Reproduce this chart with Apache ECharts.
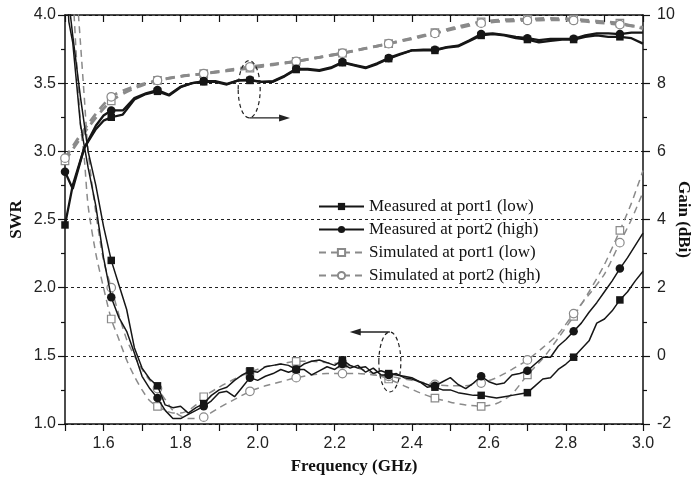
<!DOCTYPE html>
<html><head><meta charset="utf-8">
<script src="https://cdn.jsdelivr.net/npm/echarts@6/dist/echarts.min.js"></script>
<style>html,body{margin:0;padding:0;background:#fff}#c{width:697px;height:478px}</style>
</head><body><div id="c"></div>
<script>
// ---------- data ----------
const legendNames = ['Measured at port1 (low)','Measured at port2 (high)','Simulated at port1 (low)','Simulated at port2 (high)'];
const markerFreqs = [1.50,1.62,1.74,1.86,1.98,2.10,2.22,2.34,2.46,2.58,2.70,2.82,2.94];

// SWR (left axis)
const swrMeasFreq = [1.50,1.51,1.52,1.54,1.56,1.58,1.60,1.62,1.64,1.66,1.68,1.70,1.72,1.74,1.76,1.78,1.80,1.82,1.84,1.86,1.88,1.90,1.92,1.94,1.96,1.98,2.00,2.02,2.04,2.06,2.08,2.10,2.12,2.14,2.16,2.18,2.20,2.22,2.24,2.26,2.28,2.30,2.32,2.34,2.36,2.38,2.40,2.42,2.44,2.46,2.48,2.50,2.52,2.54,2.56,2.58,2.60,2.62,2.64,2.66,2.68,2.70,2.72,2.74,2.76,2.78,2.80,2.82,2.84,2.86,2.88,2.90,2.92,2.94,2.96,2.98,3.00];
const swrMeasPort1 = [4.6,4.1,3.85,3.4,3.0,2.75,2.45,2.20,2.02,1.84,1.56,1.41,1.33,1.28,1.14,1.12,1.13,1.08,1.12,1.15,1.21,1.25,1.27,1.32,1.36,1.39,1.38,1.42,1.43,1.44,1.43,1.40,1.44,1.46,1.47,1.45,1.43,1.47,1.43,1.41,1.42,1.37,1.39,1.37,1.36,1.35,1.34,1.31,1.29,1.27,1.25,1.25,1.23,1.22,1.21,1.21,1.20,1.19,1.20,1.21,1.22,1.23,1.28,1.33,1.34,1.40,1.44,1.49,1.55,1.61,1.74,1.77,1.83,1.91,1.97,2.05,2.12];
const swrMeasPort2 = [4.5,3.95,3.8,3.2,2.88,2.6,2.22,1.93,1.78,1.68,1.52,1.35,1.26,1.19,1.10,1.04,1.04,1.07,1.10,1.13,1.17,1.23,1.24,1.20,1.27,1.34,1.32,1.35,1.37,1.40,1.38,1.40,1.40,1.36,1.39,1.42,1.40,1.44,1.41,1.43,1.38,1.41,1.36,1.36,1.37,1.34,1.33,1.31,1.27,1.28,1.31,1.34,1.29,1.26,1.30,1.35,1.31,1.29,1.30,1.36,1.37,1.39,1.44,1.49,1.49,1.57,1.62,1.68,1.74,1.82,1.89,1.97,2.05,2.14,2.22,2.31,2.40];
const swrSimFreq = [1.50,1.52,1.54,1.55,1.56,1.58,1.60,1.62,1.64,1.66,1.68,1.70,1.72,1.74,1.76,1.78,1.80,1.82,1.84,1.86,1.90,1.94,1.98,2.02,2.06,2.10,2.14,2.18,2.22,2.26,2.30,2.34,2.38,2.42,2.46,2.50,2.54,2.58,2.62,2.66,2.70,2.74,2.78,2.82,2.86,2.90,2.94,2.97,3.00];
const swrSimPort1 = [5.5,4.2,3.2,2.95,2.6,2.25,2.0,1.77,1.62,1.47,1.35,1.25,1.17,1.13,1.10,1.08,1.08,1.10,1.14,1.20,1.27,1.33,1.38,1.42,1.44,1.46,1.46,1.45,1.44,1.41,1.37,1.33,1.28,1.23,1.19,1.16,1.14,1.13,1.15,1.22,1.36,1.48,1.63,1.79,1.97,2.17,2.42,2.62,2.86];
const swrSimPort2 = [5.5,4.6,3.8,3.4,3.0,2.55,2.2,2.00,1.80,1.62,1.50,1.40,1.32,1.26,1.18,1.10,1.06,1.04,1.04,1.05,1.12,1.18,1.24,1.28,1.31,1.34,1.36,1.37,1.37,1.37,1.36,1.35,1.33,1.31,1.29,1.28,1.28,1.30,1.34,1.40,1.47,1.56,1.66,1.81,1.95,2.10,2.33,2.50,2.70];

// Gain (right axis, dBi)
const gainMeasFreq = [1.50,1.52,1.55,1.58,1.60,1.62,1.65,1.68,1.71,1.74,1.77,1.80,1.83,1.86,1.89,1.92,1.95,1.98,2.01,2.04,2.07,2.10,2.13,2.16,2.19,2.22,2.25,2.28,2.31,2.34,2.37,2.40,2.43,2.46,2.49,2.52,2.55,2.58,2.61,2.64,2.67,2.70,2.73,2.76,2.79,2.82,2.85,2.88,2.91,2.94,2.97,3.00];
const gainMeasPort1 = [3.84,5.0,6.1,6.65,6.9,7.0,7.08,7.52,7.68,7.76,7.64,7.88,8.0,8.04,8.04,7.96,8.08,8.08,8.04,8.04,8.2,8.4,8.4,8.36,8.44,8.6,8.52,8.44,8.56,8.72,8.84,8.96,8.96,8.96,9.04,9.08,9.24,9.4,9.44,9.4,9.32,9.28,9.2,9.24,9.28,9.28,9.36,9.4,9.36,9.36,9.32,9.16];
const gainMeasPort2 = [5.4,4.9,6.1,6.75,7.05,7.2,7.2,7.56,7.7,7.8,7.66,7.9,8.0,8.06,8.06,7.98,8.08,8.1,8.04,8.06,8.22,8.42,8.42,8.38,8.46,8.62,8.54,8.46,8.58,8.74,8.86,8.96,8.98,8.98,9.06,9.1,9.26,9.44,9.46,9.42,9.36,9.32,9.26,9.3,9.3,9.3,9.4,9.46,9.46,9.44,9.48,9.48];
const gainSimFreq = [1.50,1.56,1.62,1.68,1.74,1.80,1.86,1.92,1.98,2.04,2.10,2.16,2.22,2.28,2.34,2.40,2.46,2.52,2.58,2.64,2.70,2.76,2.82,2.88,2.94,3.00];
const gainSimPort1 = [5.72,6.7,7.48,7.85,8.08,8.2,8.28,8.36,8.44,8.54,8.64,8.76,8.88,9.02,9.16,9.32,9.48,9.66,9.8,9.86,9.88,9.9,9.88,9.82,9.76,9.6];
const gainSimPort2 = [5.8,6.8,7.6,7.9,8.08,8.2,8.28,8.38,8.48,8.56,8.64,8.76,8.88,9.02,9.16,9.3,9.46,9.62,9.76,9.82,9.84,9.86,9.84,9.78,9.72,9.64];

// annotation anchors (data units: freq, SWR-axis value)
const annGain = {center:[1.978,3.455], arrowTo:[2.084,3.245]};
const annSwr  = {center:[2.343,1.455], arrowTo:[2.239,1.675]};

// ---------- chart ----------
const BLACK = '#161616', GRAY = '#8a8a8a';
const isMarker = f => markerFreqs.some(m => Math.abs(m - f) < 1e-6);
const pts = (xs, ys) => xs.map((x, i) => isMarker(x) ? [x, ys[i]] : {value:[x, ys[i]], symbol:'none'});

function mkSeries(name, xs, ys, axis, sim, shape) {
  const thick = axis === 1;
  return {
    name, type:'line', yAxisIndex: axis, xAxisIndex: 0,
    data: pts(xs, ys), clip: true,
    symbol: shape, symbolSize: shape === 'circle' ? 8.5 : 7.5,
    smooth: sim ? 0.25 : false,
    lineStyle: {
      color: sim ? GRAY : BLACK,
      width: sim ? (thick ? 2.8 : 1.5) : (thick ? 2.3 : 1.5),
      type: sim ? (thick ? [9,6] : [7,5]) : 'solid'
    },
    itemStyle: sim ? {color:'#ffffff', borderColor: GRAY, borderWidth: 1.2} : {color: BLACK, borderColor: BLACK, borderWidth: 0},
    z: sim ? 2 : 3,
    animation: false, silent: true
  };
}

const chart = echarts.init(document.getElementById('c'), null, {renderer:'canvas'});
const axisTxt = {fontFamily:'Liberation Sans', fontSize:16, color:'#222'};
const nameTxt = {fontFamily:'Liberation Serif', fontSize:17, fontWeight:'bold', color:'#111'};
const axLine = {show:true, onZero:false, lineStyle:{color:'#111', width:1.5}};

chart.setOption({
  animation: false,
  backgroundColor: '#fff',
  grid: {left:65, right:54, top:15, bottom:54, containLabel:false, outerBoundsMode:'none'},
  legend: {
    data: legendNames, orient:'vertical', left:313, top:193,
    itemWidth:45, itemHeight:9, itemGap:6,
    textStyle:{fontFamily:'Liberation Serif', fontSize:17, color:'#111'},
    selectedMode:false
  },
  xAxis: [{
    type:'value', min:1.5, max:3.0, interval:0.1, position:'bottom',
    axisLine: axLine,
    axisTick:{inside:false, length:7, lineStyle:{color:'#111', width:1.2}},
    axisLabel:{...axisTxt, margin:12, formatter: v => (Math.round(v*10) % 2 === 0 ? v.toFixed(1) : '')},
    splitLine:{show:false},
    name:'Frequency (GHz)', nameLocation:'middle', nameGap:34, nameMoveOverlap:false, nameTextStyle:nameTxt
  },{
    type:'value', min:1.5, max:3.0, interval:0.1, position:'top',
    axisLine: axLine,
    axisTick:{inside:true, length:7, lineStyle:{color:'#111', width:1.2}},
    axisLabel:{show:false}, splitLine:{show:false}
  }],
  yAxis: [{
    type:'value', min:1, max:4, interval:0.5, position:'left',
    axisLine: axLine,
    axisTick:{show:true, inside:false, length:7, lineStyle:{color:'#111', width:1.2}},
    minorTick:{show:true, splitNumber:2, length:4, lineStyle:{color:'#111', width:1.2}},
    axisLabel:{...axisTxt, margin:9, formatter: v => v.toFixed(1)},
    splitLine:{show:true, lineStyle:{color:'#222', width:1, type:[3,3]}},
    name:'SWR', nameLocation:'middle', nameGap:40, nameMoveOverlap:false, nameTextStyle:nameTxt
  },{
    type:'value', min:-2, max:10, interval:2, position:'right',
    axisLine: axLine,
    axisTick:{show:true, inside:false, length:7, lineStyle:{color:'#111', width:1.2}},
    minorTick:{show:true, splitNumber:2, length:4, lineStyle:{color:'#111', width:1.2}},
    axisLabel:{...axisTxt, margin:14},
    splitLine:{show:false},
    name:'Gain (dBi)', nameLocation:'middle', nameRotate:-90, nameGap:32, nameMoveOverlap:false, nameTextStyle:nameTxt
  }],
  series: [
    mkSeries(legendNames[2], swrSimFreq, swrSimPort1, 0, true, 'rect'),
    mkSeries(legendNames[3], swrSimFreq, swrSimPort2, 0, true, 'circle'),
    mkSeries(legendNames[2], gainSimFreq, gainSimPort1, 1, true, 'rect'),
    mkSeries(legendNames[3], gainSimFreq, gainSimPort2, 1, true, 'circle'),
    mkSeries(legendNames[0], swrMeasFreq, swrMeasPort1, 0, false, 'rect'),
    mkSeries(legendNames[1], swrMeasFreq, swrMeasPort2, 0, false, 'circle'),
    mkSeries(legendNames[0], gainMeasFreq, gainMeasPort1, 1, false, 'rect'),
    mkSeries(legendNames[1], gainMeasFreq, gainMeasPort2, 1, false, 'circle')
  ]
});

// annotations: dashed ellipses with arrows, anchored in data coordinates
function annotation(a, dir) {
  const c = chart.convertToPixel({xAxisIndex:0, yAxisIndex:0}, a.center);
  const t = chart.convertToPixel({xAxisIndex:0, yAxisIndex:0}, a.arrowTo);
  const rx = 11, ry = Math.abs(t[1] - c[1]);
  const sx = c[0], sy = t[1];
  const hx = t[0], hy = t[1];
  const head = dir > 0 ? [[hx, hy], [hx-11, hy-3.5], [hx-11, hy+3.5]] : [[hx, hy], [hx+11, hy-3.5], [hx+11, hy+3.5]];
  return [
    {type:'ellipse', shape:{cx:c[0], cy:c[1], rx, ry}, style:{fill:null, stroke:'#222', lineWidth:1.2, lineDash:[4,3]}, silent:true, z:10},
    {type:'line', shape:{x1:sx, y1:sy, x2:hx - dir*8, y2:hy}, style:{stroke:'#222', lineWidth:1.3}, silent:true, z:10},
    {type:'polygon', shape:{points:head}, style:{fill:'#222'}, silent:true, z:10}
  ];
}
chart.setOption({graphic: [...annotation(annGain, 1), ...annotation(annSwr, -1)]});
</script>
</body></html>
